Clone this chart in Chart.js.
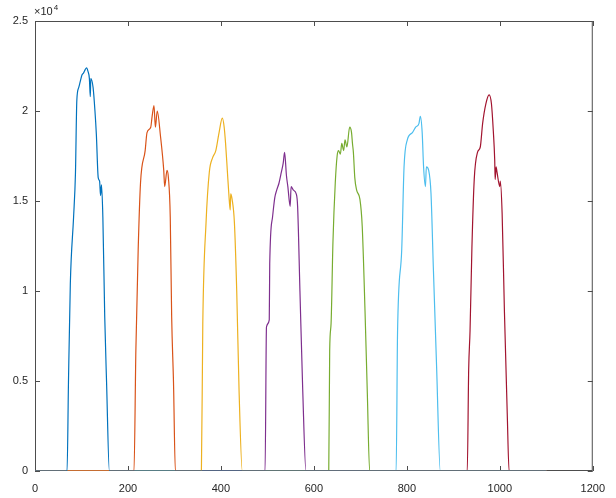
<!DOCTYPE html>
<html>
<head>
<meta charset="utf-8">
<script src="https://cdn.jsdelivr.net/npm/chart.js@4"></script>
<style>
  html, body { margin: 0; padding: 0; background: #fff; }
  #wrap { width: 616px; height: 498px; position: relative; }
</style>
</head>
<body>
<div id="wrap"><canvas id="peaksChart"></canvas></div>
<script>
// x positions and heights of each bump
const blueX = [0, 69, 72, 76, 83, 87, 90, 94, 97, 101, 104, 108, 111, 114, 117, 119, 120, 125, 129, 132, 136, 139, 141, 143, 146, 150, 154, 160, 1100];
const blueY = [0, 0, 4900, 10400, 14100, 16500, 20600, 21300, 21600, 22000, 22100, 22300, 22400, 22200, 21800, 20800, 21800, 21300, 20000, 18700, 16300, 16100, 15300, 15900, 14100, 8600, 4900, 0, 0];

const orangeX = [0, 213, 217, 222, 227, 237, 241, 249, 252, 256, 259, 263, 270, 277, 279, 284, 287, 291, 294, 298, 302, 1100];
const orangeY = [0, 0, 6700, 12300, 16000, 17800, 18800, 19100, 19700, 20300, 19100, 20000, 18600, 16700, 15800, 16700, 16300, 14100, 8600, 4900, 0, 0];

const yellowX = [0, 358, 361, 368, 375, 382, 389, 396, 403, 407, 410, 414, 417, 420, 421, 424, 429, 434, 439, 446, 1100];
const yellowY = [0, 0, 8200, 13800, 16600, 17400, 17800, 18800, 19600, 19100, 18200, 16600, 15400, 14500, 15400, 15100, 13800, 10000, 4500, 0, 0];

const purpleX = [0, 495, 498, 504, 505, 511, 516, 520, 525, 530, 534, 537, 541, 544, 549, 551, 556, 562, 565, 570, 576, 583, 1100];
const purpleY = [0, 0, 8000, 8400, 11500, 14100, 15200, 15600, 16000, 16600, 17100, 17700, 16400, 15800, 14700, 15800, 15600, 15400, 14700, 10000, 4500, 0, 0];

const greenX = [0, 632, 634, 637, 641, 646, 650, 653, 657, 660, 664, 667, 671, 677, 681, 683, 685, 688, 692, 699, 704, 710, 715, 720, 1100];
const greenY = [0, 0, 6700, 8200, 12700, 16000, 17500, 17800, 17600, 18200, 17800, 18400, 18000, 19100, 18800, 18200, 17700, 16300, 15600, 15100, 13600, 8900, 4300, 0, 0];

const cyanX = [0, 777, 780, 789, 794, 801, 812, 819, 826, 829, 833, 836, 840, 842, 847, 852, 857, 864, 872, 1100];
const cyanY = [0, 0, 7700, 12300, 16900, 18400, 18800, 19100, 19300, 19700, 18800, 16900, 15800, 16900, 16700, 15400, 11300, 5800, 0, 0];

const redX = [0, 930, 933, 936, 940, 945, 952, 958, 963, 970, 977, 982, 986, 989, 990, 992, 994, 1000, 1001, 1005, 1010, 1016, 1020, 1100];
const redY = [0, 0, 5600, 7800, 12400, 16200, 17700, 18000, 19300, 20400, 20900, 20400, 18900, 17300, 16200, 16900, 16600, 15800, 16100, 14300, 8800, 3200, 0, 0];

const xTicks = [0, 200, 400, 600, 800, 1000, 1200];
const yTicks = [0, 5000, 10000, 15000, 20000, 25000];

const series = [
    [blueX, blueY, "#0072BD"],
    [orangeX, orangeY, "#D95319"],
    [yellowX, yellowY, "#EDB120"],
    [purpleX, purpleY, "#7E2F8E"],
    [greenX, greenY, "#77AC30"],
    [cyanX, cyanY, "#4DBEEE"],
    [redX, redY, "#A2142F"]
];

const FONT = "'Liberation Sans', Arial, sans-serif";

// matlab style box with inward ticks on all four sides
const boxPlugin = {
    id: "box",
    beforeDatasetsDraw(chart) {
        const { ctx, chartArea: a, scales } = chart;
        ctx.save();
        ctx.strokeStyle = "#4d4d4d";
        ctx.lineWidth = 1;
        ctx.strokeRect(a.left + 0.5, a.top + 0.5, a.right - a.left - 1, a.bottom - a.top - 1);
        ctx.beginPath();
        xTicks.forEach(v => {
            const px = Math.round(scales.x.getPixelForValue(v)) + 0.5;
            ctx.moveTo(px, a.bottom); ctx.lineTo(px, a.bottom - 5);
            ctx.moveTo(px, a.top); ctx.lineTo(px, a.top + 5);
        });
        yTicks.forEach(v => {
            const py = Math.round(scales.y.getPixelForValue(v)) + 0.5;
            ctx.moveTo(a.left, py); ctx.lineTo(a.left + 5, py);
            ctx.moveTo(a.right, py); ctx.lineTo(a.right - 5, py);
        });
        ctx.stroke();
        ctx.restore();
    },
    afterDraw(chart) {
        const { ctx, chartArea: a } = chart;
        ctx.save();
        ctx.fillStyle = "#262626";
        ctx.textBaseline = "alphabetic";
        ctx.font = "11px " + FONT;
        ctx.fillText("\u00d710", a.left - 1, a.top - 6);
        const w = ctx.measureText("\u00d710").width;
        ctx.font = "8px " + FONT;
        ctx.fillText("4", a.left - 1 + w + 1, a.top - 11);
        ctx.restore();
    }
};

new Chart(document.getElementById("peaksChart").getContext("2d"), {
    type: "line",
    data: {
        datasets: series.map(s => ({
            data: s[0].map((x, i) => ({ x: x, y: s[1][i] })),
            borderColor: s[2],
            borderWidth: 1.2,
            pointRadius: 0,
            fill: false,
            cubicInterpolationMode: "monotone"
        }))
    },
    options: {
        responsive: true,
        maintainAspectRatio: false,
        animation: false,
        events: [],
        layout: { padding: { top: 21, right: 15, left: 0, bottom: 0 } },
        plugins: { legend: { display: false }, tooltip: { enabled: false } },
        scales: {
            x: {
                type: "linear",
                min: 0,
                max: 1200,
                afterBuildTicks: scale => { scale.ticks = xTicks.map(v => ({ value: v })); },
                afterFit: scale => { scale.height = 27; },
                grid: { display: false, drawTicks: false },
                border: { display: false },
                ticks: {
                    color: "#262626",
                    font: { family: FONT, size: 11 },
                    padding: 11,
                    maxRotation: 0,
                    callback: v => String(v)
                }
            },
            y: {
                min: 0,
                max: 25000,
                afterBuildTicks: scale => { scale.ticks = yTicks.map(v => ({ value: v })); },
                afterFit: scale => { scale.width = 35; },
                grid: { display: false, drawTicks: false },
                border: { display: false },
                ticks: {
                    color: "#262626",
                    font: { family: FONT, size: 11 },
                    padding: 7,
                    callback: v => String(v / 10000)
                }
            }
        }
    },
    plugins: [boxPlugin]
});
</script>
</body>
</html>
